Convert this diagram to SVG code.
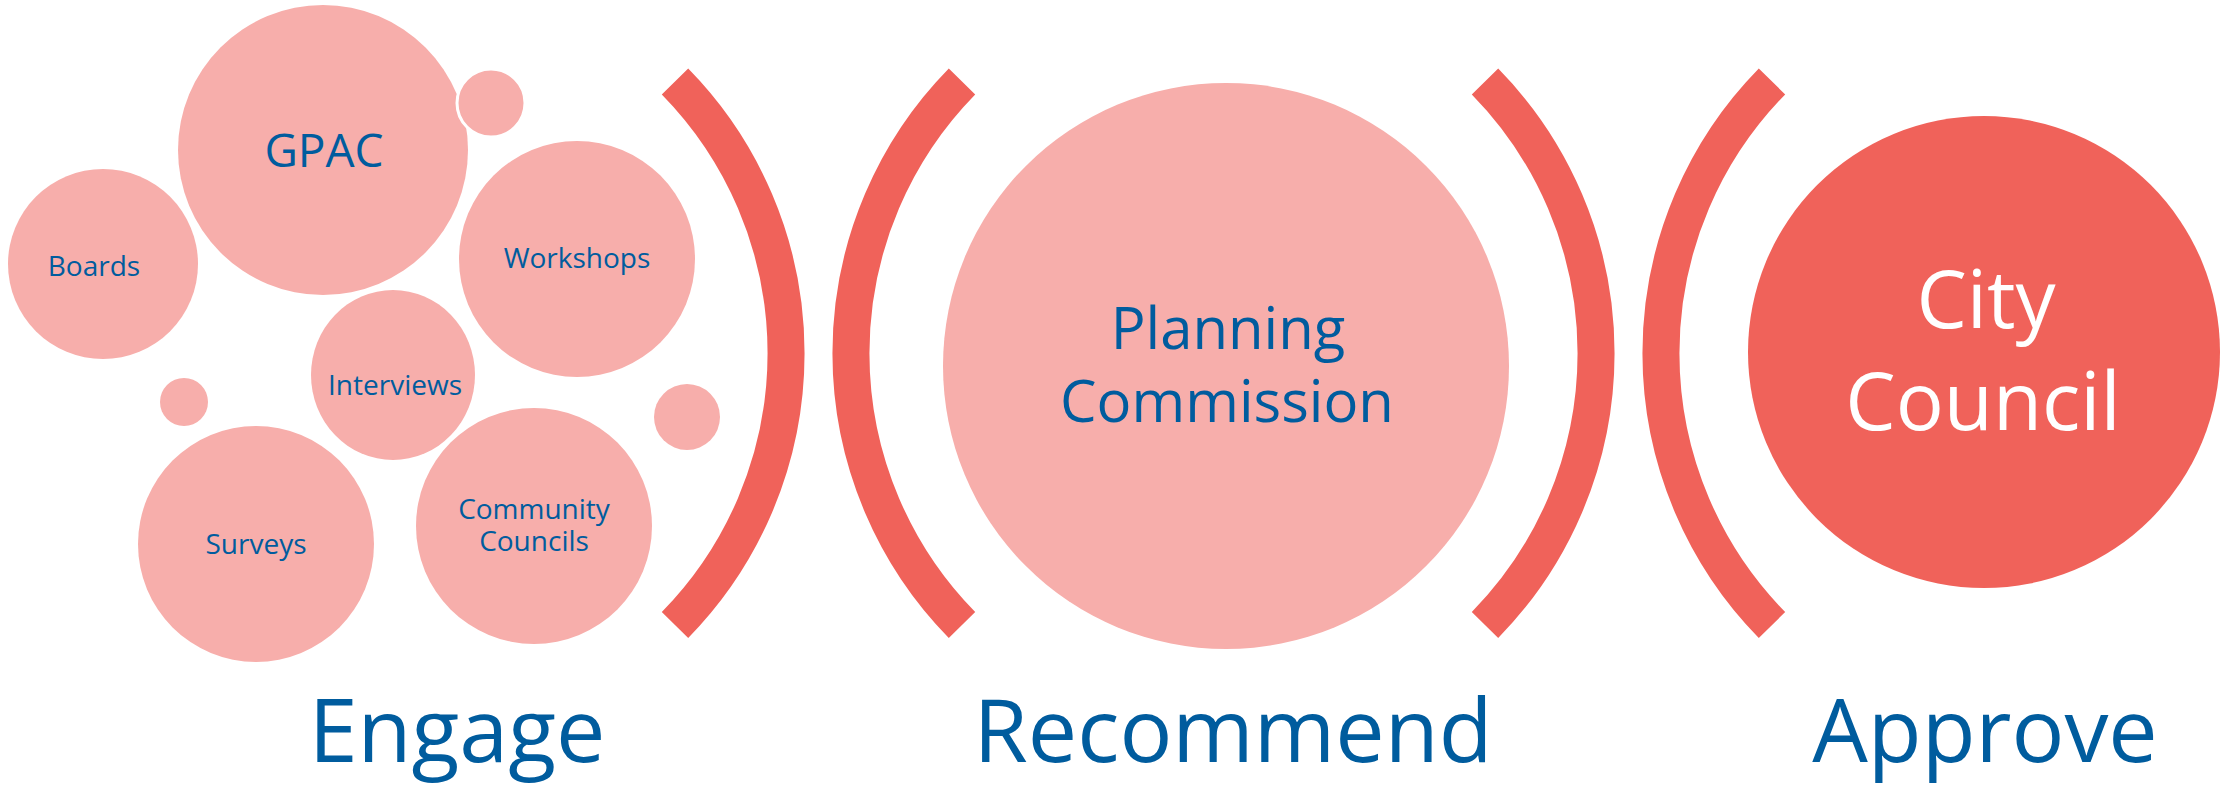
<svg xmlns="http://www.w3.org/2000/svg" width="2223" height="786" viewBox="0 0 2223 786">
<style>
.bub{fill:#F7AEAB}
.dot{fill:#F7AEAB;stroke:#fff;stroke-width:3}
.red{fill:#F0625A}
.br{fill:none;stroke:#F0625A;stroke-width:37;stroke-linecap:butt}
text{font-family:"Open Sans","Noto Sans","DejaVu Sans",sans-serif;text-anchor:middle}
.s{font-size:28px;fill:#005C9E}
.m{font-size:58px;fill:#005C9E}
.w{font-size:80px;fill:#fff}
.h{font-size:88px;fill:#005C9E}
</style>
<g id="boards"><circle class="bub" cx="103" cy="264" r="95"/><text class="s" x="94" y="276">Boards</text></g>
<g id="gpac"><circle class="bub" cx="323" cy="150" r="145"/><text x="324" y="167" style="font-size:46px;fill:#005C9E">GPAC</text></g>
<g id="dot1"><circle class="dot" cx="491" cy="103" r="34"/></g>
<g id="workshops"><circle class="bub" cx="577" cy="259" r="118"/><text class="s" x="577" y="268">Workshops</text></g>
<g id="interviews"><ellipse class="bub" cx="393" cy="375" rx="82" ry="85"/><text class="s" x="395" y="395">Interviews</text></g>
<g id="dot2"><circle class="bub" cx="184" cy="402" r="24"/></g>
<g id="dot3"><circle class="bub" cx="687" cy="417" r="33"/></g>
<g id="surveys"><circle class="bub" cx="256" cy="544" r="118"/><text class="s" x="256" y="554">Surveys</text></g>
<g id="community"><circle class="bub" cx="534" cy="526" r="118"/><text class="s" x="534" y="519">Community</text><text class="s" x="534" y="551">Councils</text></g>
<g id="planning"><circle class="bub" cx="1226" cy="366" r="283"/><text class="m" x="1228" y="349">Planning</text><text class="m" x="1227" y="422">Commission</text></g>
<g id="council"><circle class="red" cx="1984" cy="352" r="236"/><text class="w" x="1986" y="328">City</text><text class="w" x="1983" y="430">Council</text></g>
<g id="connectors">
<path class="br" d="M675 81.5A388 388 0 0 1 675 625"/>
<path class="br" d="M962 81.5A388 388 0 0 0 962 625"/>
<path class="br" d="M1485 81.5A388 388 0 0 1 1485 625"/>
<path class="br" d="M1772 81.5A388 388 0 0 0 1772 625"/>
</g>
<g id="labels">
<text class="h" x="457" y="762">Engage</text>
<text class="h" x="1233" y="762">Recommend</text>
<text class="h" x="1985" y="762">Approve</text>
</g>
</svg>
